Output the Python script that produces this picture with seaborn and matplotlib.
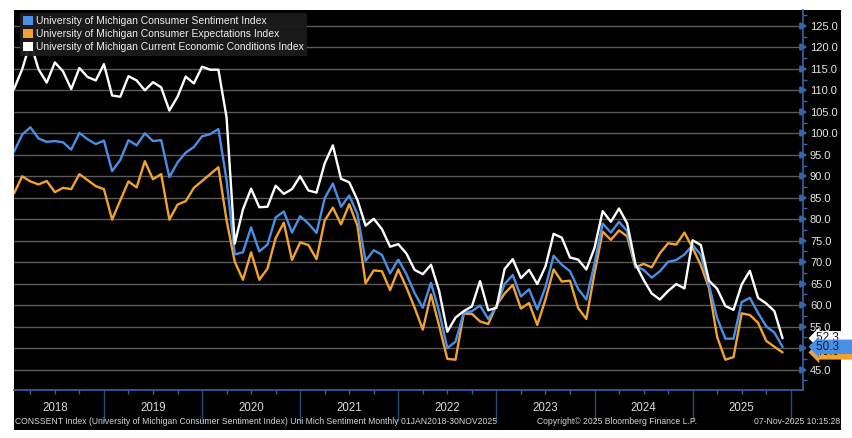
import numpy as np
import pandas as pd
import matplotlib
matplotlib.use("Agg")
import matplotlib.pyplot as plt
from matplotlib.patches import Patch, Rectangle
import matplotlib.transforms as mtransforms
import seaborn as sns

# ---------------- data (monthly, Jan 2018 - Nov 2025) ----------------
sentiment = [
    95.7, 99.7, 101.4, 98.8, 98.0, 98.2, 97.9, 96.2, 100.1, 98.6, 97.5, 98.3,
    91.2, 93.8, 98.4, 97.2, 100.0, 98.2, 98.4, 89.8, 93.2, 95.5, 96.8, 99.3,
    99.8, 101.0, 89.1, 71.8, 72.3, 78.1, 72.5, 74.1, 80.4, 81.8, 76.9, 80.7,
    79.0, 76.8, 84.9, 88.3, 82.9, 85.5, 81.2, 70.3, 72.8, 71.7, 67.4, 70.6,
    67.2, 62.8, 59.4, 65.2, 58.4, 50.0, 51.5, 58.2, 58.6, 59.9, 56.8, 59.7,
    64.9, 67.0, 62.0, 63.7, 59.0, 64.2, 71.5, 69.4, 67.9, 63.8, 61.3, 69.7,
    79.0, 76.9, 79.4, 77.2, 69.1, 68.2, 66.4, 67.9, 70.1, 70.5, 71.8, 74.0,
    71.7, 64.7, 57.0, 52.2, 52.2, 60.7, 61.7, 58.2, 55.1, 53.6, 50.3,
]
expectations = [
    86.0, 90.0, 88.8, 88.1, 88.9, 86.3, 87.3, 87.0, 90.5, 89.1, 87.7, 87.0,
    79.9, 84.4, 88.8, 87.4, 93.5, 89.3, 90.5, 79.9, 83.4, 84.2, 87.3, 88.9,
    90.5, 92.1, 79.7, 70.1, 65.9, 72.3, 65.9, 68.5, 75.6, 79.2, 70.5, 74.6,
    74.0, 70.7, 79.7, 82.7, 78.8, 83.5, 78.5, 65.1, 68.1, 67.9, 63.5, 68.3,
    64.1, 59.4, 54.3, 62.5, 55.2, 47.5, 47.3, 58.0, 58.0, 56.2, 55.6, 59.9,
    62.7, 64.7, 59.2, 60.5, 55.4, 61.3, 68.3, 65.5, 65.7, 59.3, 56.8, 67.4,
    77.1, 75.2, 77.4, 76.0, 68.8, 69.6, 68.8, 72.1, 74.4, 74.1, 76.9, 73.3,
    69.3, 64.0, 52.6, 47.3, 47.9, 58.1, 57.7, 55.9, 51.7, 50.3, 49.0,
]
current = [
    110.3, 114.9, 121.2, 114.9, 111.8, 116.5, 114.4, 110.3, 115.2, 113.1, 112.3, 116.1,
    108.8, 108.5, 113.3, 112.3, 110.0, 111.9, 110.7, 105.3, 108.5, 113.2, 111.6, 115.5,
    114.8, 114.8, 103.7, 74.3, 82.3, 87.1, 82.8, 82.9, 87.8, 85.9, 87.0, 90.0,
    86.7, 86.2, 93.0, 97.2, 89.4, 88.6, 84.5, 78.5, 80.1, 77.7, 73.6, 74.2,
    72.0, 68.2, 67.2, 69.4, 63.3, 53.8, 57.1, 58.6, 59.7, 65.6, 58.8, 59.4,
    68.4, 70.7, 66.3, 68.2, 64.9, 69.0, 76.6, 75.7, 71.1, 70.6, 68.3, 73.3,
    81.9, 79.4, 82.5, 79.0, 69.6, 65.9, 62.7, 61.3, 63.3, 64.9, 63.9, 75.1,
    74.0, 65.7, 63.8, 59.8, 58.9, 64.8, 68.0, 61.7, 60.4, 58.6, 52.3,
]
years = [2018, 2019, 2020, 2021, 2022, 2023, 2024, 2025]
series_names = [
    "University of Michigan Consumer Sentiment Index",
    "University of Michigan Consumer Expectations Index",
    "University of Michigan Current Economic Conditions Index",
]
y_ticks = [45.0, 50.0, 55.0, 60.0, 65.0, 70.0, 75.0, 80.0, 85.0, 90.0, 95.0,
           100.0, 105.0, 110.0, 115.0, 120.0, 125.0]
footer_left = ("CONSSENT Index (University of Michigan Consumer Sentiment Index) "
               "Uni Mich Sentiment Monthly 01JAN2018-30NOV2025")
footer_mid = "Copyright\u00a9 2025 Bloomberg Finance L.P."
footer_right = "07-Nov-2025 10:15:28"

# ---------------- styling ----------------
BLUE = "#4a8fe6"
ORANGE = "#f2a22e"
WHITE = "#ffffff"
AXBLUE = "#3565a8"
colors = [BLUE, ORANGE, WHITE]

sns.set_theme(style="dark")
plt.rcParams["font.family"] = ["Liberation Sans", "DejaVu Sans"]

W, H = 852, 438
fig = plt.figure(figsize=(W / 100, H / 100), dpi=100, facecolor="white")
fig.patches.append(Rectangle((14 / W, 1 - 430 / H), (841 - 14) / W, (430 - 10) / H,
                             transform=fig.transFigure, facecolor="black",
                             edgecolor="none", zorder=-10))
ax_l, ax_r, ax_t, ax_b = 14, 803, 10, 390
ax = fig.add_axes([ax_l / W, 1 - ax_b / H, (ax_r - ax_l) / W, (ax_b - ax_t) / H])
ax.set_facecolor("black")
ax.set_zorder(1)

# month-end positions in months since 1 Jan 2018
n = len(sentiment)
xpos = np.arange(n) + 1.0
df = pd.DataFrame({
    "x": np.concatenate([xpos] * 3),
    "value": sentiment + expectations + current,
    "series": np.repeat(series_names, n),
})
sns.lineplot(data=df, x="x", y="value", hue="series", hue_order=series_names,
             palette=colors, linewidth=1.7, legend=False, ax=ax, sort=False)
for line, z in zip(ax.lines, [4, 3, 5]):
    line.set_zorder(z)

ax.set_xlim(1.0, 97.5)
ax.set_ylim(40.25, 128.7)
ax.set_xlabel("")
ax.set_ylabel("")

# y axis on right
ax.yaxis.tick_right()
ax.set_yticks(y_ticks)
ax.set_yticklabels([f"{v:.1f}" for v in y_ticks], fontsize=8, color="#e6e6e6")
ax.set_yticks(np.arange(42.5, 128, 5), minor=True)
ax.tick_params(axis="y", which="major", direction="out", length=0, pad=5,
               colors=AXBLUE, labelcolor="#e6e6e6", right=True, left=False)
ax.tick_params(axis="y", which="minor", direction="out", length=3, width=1,
               colors=AXBLUE, right=True, left=False)
for t in ax.yaxis.get_major_ticks():
    t.tick2line.set_marker(">")
    t.tick2line.set_markersize(4.5)
    t.tick2line.set_markerfacecolor(AXBLUE)
    t.tick2line.set_markeredgecolor(AXBLUE)
    t.tick2line.set_visible(True)
    t.tick1line.set_visible(False)

# grid
ax.grid(axis="y", which="major", color="#5a5a5a", linewidth=1.0)
ax.grid(axis="x", visible=False)
ax.set_axisbelow(True)

# x axis: year separators (long), quarter ticks (short)
ax.set_xticks(np.arange(12, 97, 12))
ax.set_xticklabels([])
ax.set_xticks(np.arange(3, 97, 3), minor=True)
ax.tick_params(axis="x", which="major", direction="out", length=22, width=1,
               colors="#2c4c7c", bottom=True)
ax.tick_params(axis="x", which="minor", direction="out", length=3, width=1,
               colors=AXBLUE, bottom=True)

for s in ["top", "left"]:
    ax.spines[s].set_visible(False)
for s in ["bottom", "right"]:
    ax.spines[s].set_visible(True)
    ax.spines[s].set_color(AXBLUE)
    ax.spines[s].set_linewidth(1.2)

# year labels at mid-year
ytrans = mtransforms.blended_transform_factory(ax.transData, ax.transAxes)
for i, yr in enumerate(years):
    ax.text(12 * i + 6, -18 / (ax_b - ax_t), str(yr), transform=ytrans,
            ha="center", va="center", color="#d8d8d8", fontsize=8.3,
            clip_on=False)

# legend
handles = [Patch(facecolor=c, edgecolor="none") for c in colors]
leg = ax.legend(handles, series_names, loc="upper left",
                bbox_to_anchor=(20 / W, 1 - 13 / H), bbox_transform=fig.transFigure,
                fontsize=7.5, frameon=True, borderpad=0.3, labelspacing=0.3,
                handlelength=0.9, handleheight=0.9, handletextpad=0.3,
                borderaxespad=0, fancybox=False)
leg.get_frame().set_facecolor("#1c1c1c")
leg.get_frame().set_edgecolor("none")
leg.get_frame().set_alpha(0.95)
for txt in leg.get_texts():
    txt.set_color("#f0f0f0")
leg.set_zorder(10)

# last-value tags (orange, white, then blue on top)
tag_info = [(expectations[-1], ORANGE, "#1a1a1a", 11),
            (current[-1], WHITE, "#1a1a1a", 12),
            (sentiment[-1], BLUE, "#0b1e3d", 13)]
rtrans = mtransforms.blended_transform_factory(ax.transAxes, ax.transData)
for val, fc, tc, z in tag_info:
    ax.text(1 + 13 / (ax_r - ax_l), val, f"{val:.1f}      ", transform=rtrans,
            ha="left", va="center", color=tc, fontsize=8.5,
            clip_on=False, zorder=z,
            bbox=dict(boxstyle="larrow,pad=0.1", facecolor=fc, edgecolor="none"))

# footer
for txt, xp, ha in [(footer_left, 15, "left"), (footer_mid, 617, "center"),
                    (footer_right, 840, "right")]:
    fig.text(xp / W, 1 - 421 / H, txt, ha=ha, va="center", color="#d5d5d5",
             fontsize=6.2)

fig.savefig("out.png", dpi=100, facecolor="white")
